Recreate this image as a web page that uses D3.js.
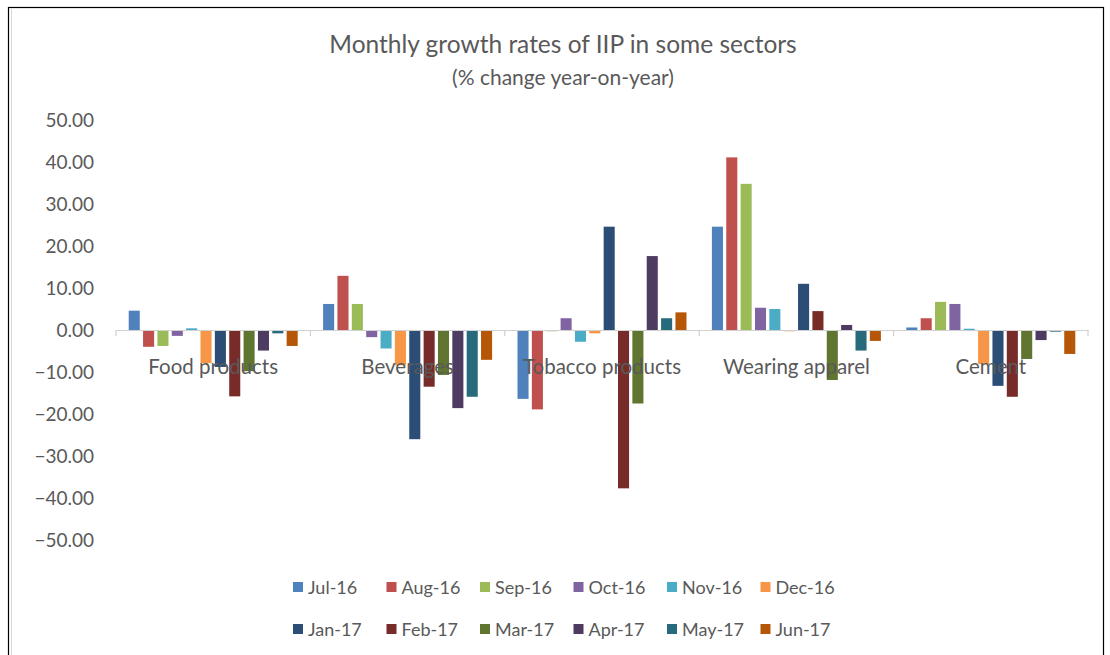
<!DOCTYPE html>
<html>
<head>
<meta charset="utf-8">
<script src="https://cdn.jsdelivr.net/npm/d3@7/dist/d3.min.js"></script>
<style>
  html, body { margin: 0; padding: 0; background: #fff; }
  svg { display: block; font-family: Lato, "Open Sans", sans-serif; }
</style>
</head>
<body>
<svg id="chart" width="1110" height="655"></svg>
<script>
// Sectors along the x axis
const sectors = ["Food products", "Beverages", "Tobacco products", "Wearing apparel", "Cement"];

// Months (one series per month)
const months = ["Jul-16", "Aug-16", "Sep-16", "Oct-16", "Nov-16", "Dec-16",
                "Jan-17", "Feb-17", "Mar-17", "Apr-17", "May-17", "Jun-17"];

// Year-on-year growth (%) for each sector, Jul-16 .. Jun-17
const foodProducts   = [4.6, -4.0, -3.8, -1.4, 0.4, -7.9, -8.8, -15.8, -9.8, -4.9, -0.8, -3.8];
const beverages      = [6.2, 12.9, 6.2, -1.7, -4.4, -8.4, -26.0, -13.5, -10.7, -18.6, -15.9, -7.1];
const tobacco        = [-16.4, -18.9, -0.3, 2.8, -2.8, -0.8, 24.6, -37.7, -17.5, 17.6, 2.8, 4.2];
const wearingApparel = [24.6, 41.1, 34.8, 5.3, 5.0, -0.3, 11.0, 4.5, -11.9, 1.2, -4.9, -2.6];
const cement         = [0.6, 2.8, 6.7, 6.2, 0.3, -8.1, -13.3, -15.9, -6.9, -2.4, -0.4, -5.7];

// Y axis tick values
const yTicks = [50, 40, 30, 20, 10, 0, -10, -20, -30, -40, -50];

const sectorValues = [foodProducts, beverages, tobacco, wearingApparel, cement];

const colors = ["#4F81BD", "#C0504D", "#9BBB59", "#8064A2", "#4BACC6", "#F79646",
                "#2C4D75", "#772C2A", "#5F7530", "#4D3B62", "#276A7C", "#B65708"];

const svg = d3.select("#chart");

// Outer frame
svg.append("rect")
  .attr("x", 8.5).attr("y", 7.5).attr("width", 1095).attr("height", 700)
  .attr("fill", "none").attr("stroke", "#000").attr("stroke-width", 1.2);
svg.append("line")
  .attr("x1", 11.5).attr("x2", 11.5).attr("y1", 9).attr("y2", 655)
  .attr("stroke", "#d9d9d9").attr("stroke-width", 1);

// Title
svg.append("text")
  .attr("x", 563).attr("y", 53)
  .attr("text-anchor", "middle")
  .attr("font-size", 24.5).attr("fill", "#595959")
  .text("Monthly growth rates of IIP in some sectors");
svg.append("text")
  .attr("x", 563).attr("y", 85)
  .attr("text-anchor", "middle")
  .attr("font-size", 21).attr("fill", "#595959")
  .text("(% change year-on-year)");

// Scales
const x0 = d3.scaleBand().domain(sectors).range([116, 1088]).padding(0);
const inset = 12.7;
const x1 = d3.scaleBand().domain(months)
  .range([inset, x0.bandwidth() - inset])
  .paddingInner(0.23).paddingOuter(0);
const y = d3.scaleLinear().domain([-50, 50]).range([540, 120]);

// Y axis labels (no axis line)
const yAxis = d3.axisLeft(y).tickValues(yTicks).tickSize(0).tickPadding(0)
  .tickFormat(d3.format(".2f"));
const yg = svg.append("g").attr("transform", "translate(94,0)").call(yAxis);
yg.select(".domain").remove();
yg.selectAll("text")
  .attr("font-family", "Lato, 'Open Sans', sans-serif")
  .attr("font-size", 19).attr("fill", "#595959");

// Bars
const groups = svg.append("g").selectAll("g")
  .data(sectors)
  .join("g")
  .attr("transform", d => `translate(${x0(d)},0)`);

groups.selectAll("rect")
  .data((d, i) => months.map((m, j) => ({ month: m, value: sectorValues[i][j], color: colors[j] })))
  .join("rect")
  .attr("x", d => x1(d.month))
  .attr("width", x1.bandwidth())
  .attr("y", d => y(Math.max(0, d.value)))
  .attr("height", d => Math.abs(y(d.value) - y(0)))
  .attr("fill", d => d.color);

// Zero axis with category ticks
const xAxis = d3.axisBottom(x0).tickSize(0).tickFormat("");
const xg = svg.append("g").attr("transform", `translate(0,${y(0)})`).call(xAxis);
xg.select(".domain").attr("stroke", "#d0d0d0").attr("stroke-width", 1.2);
xg.selectAll(".tick").remove();
const bounds = sectors.map(s => x0(s)).concat([x0.range()[1]]);
xg.selectAll("line.sep")
  .data(bounds)
  .join("line")
  .attr("class", "sep")
  .attr("x1", d => d).attr("x2", d => d)
  .attr("y1", 0).attr("y2", 6)
  .attr("stroke", "#d0d0d0").attr("stroke-width", 1.2);

// Category labels (drawn over the bars)
svg.append("g").selectAll("text")
  .data(sectors)
  .join("text")
  .attr("x", d => x0(d) + x0.bandwidth() / 2)
  .attr("y", 374)
  .attr("text-anchor", "middle")
  .attr("font-size", 20.5).attr("fill", "#595959")
  .text(d => d);

// Legend: two rows of six
const legend = svg.append("g").selectAll("g")
  .data(months)
  .join("g")
  .attr("transform", (d, i) => `translate(${293 + (i % 6) * 93.5},${i < 6 ? 587 : 629})`);
legend.append("rect")
  .attr("x", 0).attr("y", -5).attr("width", 10).attr("height", 10)
  .attr("fill", (d, i) => colors[i]);
legend.append("text")
  .attr("x", 15).attr("y", 6.5)
  .attr("font-size", 18).attr("fill", "#595959")
  .text(d => d);
</script>
</body>
</html>
